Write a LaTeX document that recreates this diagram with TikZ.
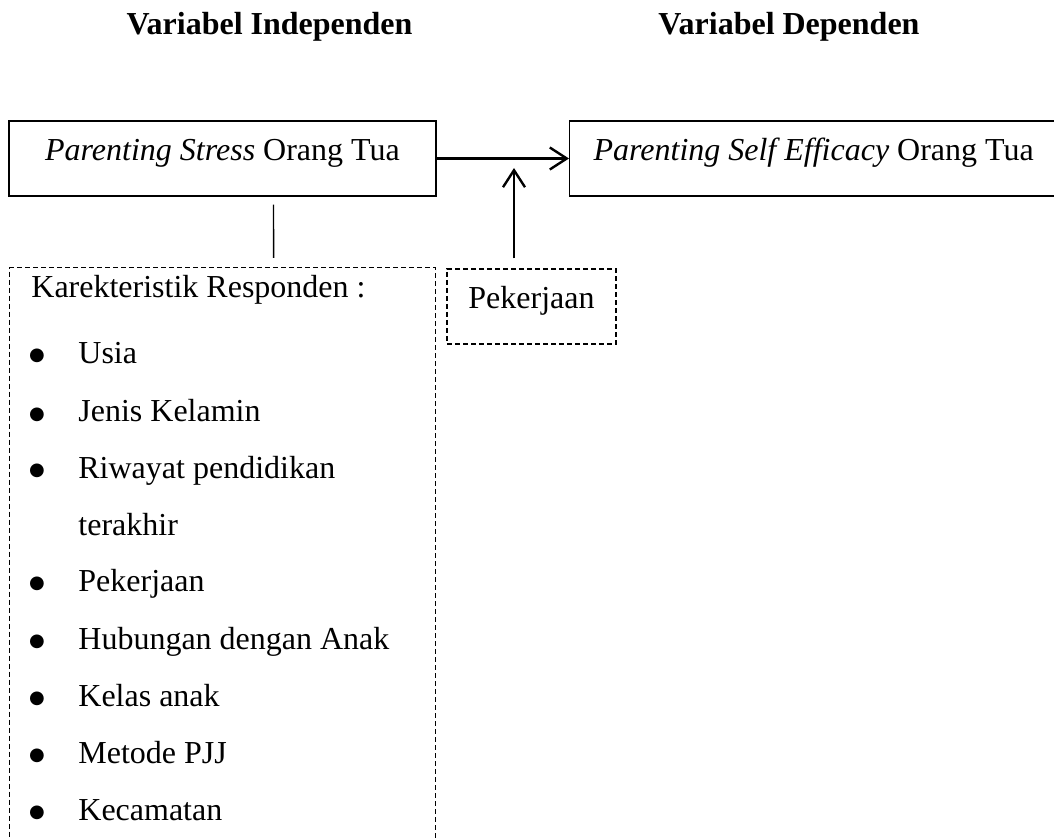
\documentclass[tikz,border=0pt]{standalone}
\usepackage{fontspec}
\setmainfont{Liberation Serif}
\newfontfamily\symfont{DejaVu Sans}
\usetikzlibrary{arrows.meta,positioning}

\begin{document}
\begin{tikzpicture}[x=0.5pt,y=-0.5pt,>={Straight Barb[length=8.5pt,width=11pt]},
  every node/.style={font=\fontsize{16}{19}\selectfont},
  varbox/.style={draw,line width=0.6pt,inner xsep=0pt,inner ysep=4pt,text height=16pt,text depth=13.5pt},
  dashbox/.style={draw,line width=0.6pt,dash pattern=on 2.5pt off 1.5pt},
  item/.style={inner sep=0pt,anchor=base west},
  dot/.style={inner sep=0pt,anchor=base,font=\symfont\fontsize{9}{9}\selectfont},
  arr/.style={->,line width=1.2pt}]
\clip (0,0) rectangle (1054,839);
\node[anchor=base] (hind) at (269.5,35) {\textbf{Variabel Independen}};
\node[anchor=base] (hdep) at (789,35) {\textbf{Variabel Dependen}};
\node[varbox,minimum width=213.5pt] (ps) at (222.5,158.5) {\textit{Parenting Stress} Orang Tua};
\node[varbox,anchor=west,inner xsep=12pt] (pse) at (569,158.5) {\textit{Parenting Self Efficacy} Orang Tua};
\node[varbox,dashbox,minimum width=84.5pt] (kerja) at (531.5,306.5) {Pekerjaan};
\node[dashbox,anchor=north west,minimum width=213pt,minimum height=320pt] (resp) at (9,267) {};
\coordinate (mod) at (514,168);
\draw[arr] (ps) -- (pse);
\draw[arr] ([yshift=5pt]kerja.north -| mod) -- (mod);
\draw[line width=0.7pt] ([xshift=25.5pt,yshift=-4pt]ps.south) -- ([xshift=25.5pt,yshift=4.5pt]resp.north);
\node[item] (judul) at (31,298) {Karekteristik Responden :};
\foreach \txt/\yy in {Usia/364,Jenis Kelamin/422,Riwayat pendidikan/478,Pekerjaan/591,Hubungan dengan Anak/649,Kelas anak/706,Metode PJJ/763,Kecamatan/820}{
  \node[dot] at (37,\yy-3) {●};
  \node[item] at (78,\yy) {\txt};
}
\node[item] (lanjut) at (78,535) {terakhir};
\end{tikzpicture}
\end{document}
